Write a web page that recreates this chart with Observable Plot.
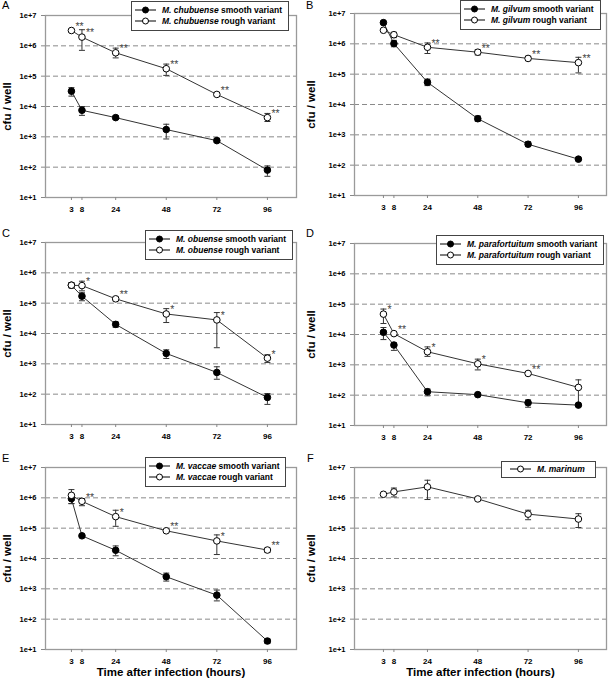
<!DOCTYPE html>
<html><head><meta charset="utf-8">
<script src="https://cdn.jsdelivr.net/npm/d3@7"></script>
<script src="https://cdn.jsdelivr.net/npm/@observablehq/plot@0.6"></script>
<style>
body{margin:0;background:#fff;font-family:"Liberation Sans",Arial,sans-serif;}
#fig{position:relative;width:608px;height:680px;overflow:hidden;background:#fff;}
.panel{position:absolute;}
.letter{position:absolute;font-size:11px;line-height:11px;color:#000;}
.legend{position:absolute;background:#fff;border:1px solid #444;padding:3px 6px 3px 3px;font-size:8.5px;font-weight:bold;line-height:11px;white-space:nowrap;color:#000;}
.legend svg{vertical-align:middle;margin-right:6px;position:relative;top:-1px;}
</style></head><body><div id="fig"></div>
<script>
// ---------- data ----------
const hours = [3, 8, 24, 48, 72, 96];
const yTicks = [1e1, 1e2, 1e3, 1e4, 1e5, 1e6, 1e7];
const gridValues = [1e2, 1e3, 1e4, 1e5, 1e6];
const panelLetters = ["A", "B", "C", "D", "E", "F"];
const speciesNames = ["M. chubuense", "M. gilvum", "M. obuense", "M. parafortuitum", "M. vaccae", "M. marinum"];
const smoothLabel = "smooth variant";
const roughLabel = "rough variant";
const yLabel = "cfu / well";
const xLabel = "Time after infection (hours)";

// Panel A: M. chubuense
const smoothA    = [3.2e4, 7.5e3, 4.3e3, 1.74e3, 7.5e2, 80];
const smoothA_hi = [4.2e4, 1.0e4, 4.9e3, 2.6e3, 9.0e2, 110];
const smoothA_lo = [2.2e4, 5.1e3, 3.8e3, 8.5e2, 6.5e2, 50];
const roughA     = [3.2e6, 1.94e6, 5.9e5, 1.76e5, 2.5e4, 4.3e3];
const roughA_hi  = [null, 3.4e6, 8.4e5, 2.5e5, 2.9e4, 5.9e3];
const roughA_lo  = [null, 7.1e5, 4.0e5, 1.06e5, 2.2e4, 3.2e3];
const starsA     = ["**", "**", "**", "**", "**", "**"];

// Panel B: M. gilvum
const smoothB    = [5.0e6, 1.02e6, 5.4e4, 3.4e3, 4.9e2, 1.58e2];
const smoothB_hi = [null, 1.3e6, 6.9e4, 4.2e3, 5.9e2, null];
const smoothB_lo = [null, 8.0e5, 4.2e4, 2.8e3, 4.1e2, null];
const roughB     = [2.8e6, 2.0e6, 7.7e5, 5.3e5, 3.3e5, 2.4e5];
const roughB_hi  = [null, 2.4e6, 1.07e6, 6.4e5, 3.9e5, 3.6e5];
const roughB_lo  = [null, 1.6e6, 4.8e5, 4.3e5, 2.8e5, 1.1e5];
const starsB     = ["", "", "**", "**", "**", "**"];

// Panel C: M. obuense
const smoothC    = [3.9e5, 1.7e5, 2.0e4, 2.2e3, 5.2e2, 78];
const smoothC_hi = [null, 2.2e5, 2.4e4, 2.9e3, 8.0e2, 105];
const smoothC_lo = [null, 1.2e5, 1.6e4, 1.5e3, 3.1e2, 46];
const roughC     = [3.9e5, 3.8e5, 1.39e5, 4.4e4, 2.8e4, 1.54e3];
const roughC_hi  = [4.8e5, 5.3e5, 1.6e5, 6.6e4, 4.9e4, 2.0e3];
const roughC_lo  = [3.2e5, 2.55e5, 1.2e5, 2.3e4, 3.4e3, 1.1e3];
const starsC     = ["", "*", "**", "*", "*", "*"];

// Panel D: M. parafortuitum
const smoothD    = [1.18e4, 4.5e3, 1.3e2, 1.04e2, 56, 47];
const smoothD_hi = [1.7e4, 5.3e3, 1.6e2, null, 70, null];
const smoothD_lo = [6.8e3, 3.0e3, 95, null, 40, null];
const roughD     = [4.7e4, 1.07e4, 2.7e3, 1.08e3, 5.2e2, 1.8e2];
const roughD_hi  = [6.9e4, null, 3.9e3, 1.54e3, null, 3.2e2];
const roughD_lo  = [2.3e4, null, 1.9e3, 6.8e2, null, 47];
const starsD     = ["*", "**", "*", "*", "**", ""];

// Panel E: M. vaccae
const smoothE    = [9.4e5, 5.6e4, 1.87e4, 2.5e3, 6.2e2, 19];
const smoothE_hi = [1.2e6, null, 2.6e4, 3.3e3, 9.1e2, 22];
const smoothE_lo = [6.5e5, null, 1.23e4, 1.8e3, 4.0e2, 16];
const roughE     = [1.21e6, 7.7e5, 2.4e5, 8.2e4, 3.8e4, 1.9e4];
const roughE_hi  = [1.87e6, 9.5e5, 3.9e5, 9.0e4, 6.0e4, 2.2e4];
const roughE_lo  = [6.4e5, 5.5e5, 1.15e5, 7.5e4, 1.35e4, 1.6e4];
const starsE     = ["", "**", "*", "**", "*", "**"];

// Panel F: M. marinum
const marinumF    = [1.31e6, 1.57e6, 2.3e6, 9.2e5, 2.9e5, 2.0e5];
const marinumF_hi = [null, 2.1e6, 3.8e6, null, 3.9e5, 3.0e5];
const marinumF_lo = [null, 1.07e6, 8.8e5, null, 1.9e5, 1.05e5];

// ---------- layout (positions / styles only) ----------
const FONT = '"Liberation Sans", Arial, sans-serif';
const colX = [0, 304];
const rowTop = [0, 227, 452];
const rowH = [227, 225, 228];
const colDomain = [[-9.3, 109.8], [-10.8, 109.4]];
const colMargins = [{l: 45, r: 8}, {l: 50, r: 2}];
const plotH = 182;
const layout = [
  {col: 0, row: 0, mt: 15, lg: [131, 1], lt: [2, 0]},
  {col: 1, row: 0, mt: 13, lg: [156, 0], lt: [2, 0]},
  {col: 0, row: 1, mt: 15, lg: [145, 3], lt: [2, 1]},
  {col: 1, row: 1, mt: 16, lg: [132, 8], lt: [2, 1]},
  {col: 0, row: 2, mt: 15, lg: [145, 5], lt: [2, 1]},
  {col: 1, row: 2, mt: 15, lg: [197, 9], lt: [3, 1]},
];

const panels = [
  {series: [{v: smoothA, hi: smoothA_hi, lo: smoothA_lo, filled: true}, {v: roughA, hi: roughA_hi, lo: roughA_lo, filled: false, stars: starsA}]},
  {series: [{v: smoothB, hi: smoothB_hi, lo: smoothB_lo, filled: true}, {v: roughB, hi: roughB_hi, lo: roughB_lo, filled: false, stars: starsB}]},
  {series: [{v: smoothC, hi: smoothC_hi, lo: smoothC_lo, filled: true}, {v: roughC, hi: roughC_hi, lo: roughC_lo, filled: false, stars: starsC}]},
  {series: [{v: smoothD, hi: smoothD_hi, lo: smoothD_lo, filled: true}, {v: roughD, hi: roughD_hi, lo: roughD_lo, filled: false, stars: starsD}]},
  {series: [{v: smoothE, hi: smoothE_hi, lo: smoothE_lo, filled: true}, {v: roughE, hi: roughE_hi, lo: roughE_lo, filled: false, stars: starsE}]},
  {series: [{v: marinumF, hi: marinumF_hi, lo: marinumF_lo, filled: false}], single: true},
];

const capSymbol = {
  draw(context, size) {
    const r = Math.sqrt(size / Math.PI);
    context.moveTo(-r, 0);
    context.lineTo(r, 0);
  }
};

const fig = document.getElementById("fig");

panels.forEach((p, k) => {
  const L = layout[k];
  const m = colMargins[L.col];
  const H = rowH[L.row];
  const mb = H - L.mt - plotH;
  const bottomRow = L.row === 2;

  const marks = [
    Plot.ruleY(gridValues, {stroke: "#8a8a8a", strokeWidth: 1, strokeDasharray: "5,3"}),
    Plot.frame({stroke: "#9a9a9a", strokeWidth: 1.3}),
    Plot.axisY({ticks: yTicks, tickFormat: d => "1e+" + Math.round(Math.log10(d)), tickSize: 4, tickPadding: 5,
      fontSize: 7.5, fontWeight: "bold", stroke: "#888", fill: "#000", label: null}),
    Plot.axisX({ticks: hours, tickFormat: d => String(d), tickSize: 3, tickPadding: 6,
      fontSize: 8, fontWeight: "bold", stroke: "#888", fill: "#000", label: null}),
    Plot.text([yLabel], {text: d => d, frameAnchor: "left", dx: -(m.l - 7), rotate: -90,
      textAnchor: "middle", lineAnchor: "middle",
      fontSize: 11.5, fontWeight: "bold", fill: "#000"}),
  ];
  if (bottomRow) {
    marks.push(Plot.text([xLabel], {text: d => d, frameAnchor: "bottom", dy: 23,
      textAnchor: "middle", lineAnchor: "middle",
      fontSize: 11.5, fontWeight: "bold", fill: "#000"}));
  }
  const seriesData = p.series.map(s => hours.map((h, i) => ({
    x: h, y: s.v[i], hi: s.hi[i], lo: s.lo[i], star: s.stars ? s.stars[i] : ""
  })));
  seriesData.forEach(d => marks.push(Plot.line(d, {x: "x", y: "y", stroke: "#333", strokeWidth: 1})));
  seriesData.forEach(d => {
    const e = d.filter(o => o.hi != null);
    marks.push(Plot.ruleX(e, {x: "x", y1: "lo", y2: "hi", stroke: "#333", strokeWidth: 1}));
    marks.push(Plot.dot(e, {x: "x", y: "hi", symbol: capSymbol, r: 3, fill: "none", stroke: "#333", strokeWidth: 1}));
    marks.push(Plot.dot(e, {x: "x", y: "lo", symbol: capSymbol, r: 3, fill: "none", stroke: "#333", strokeWidth: 1}));
  });
  seriesData.forEach((d, j) => {
    const s = p.series[j];
    marks.push(Plot.dot(d, {x: "x", y: "y", r: 3.3, fill: s.filled ? "#000" : "#fff", stroke: "#000", strokeWidth: 1}));
    if (s.stars) {
      marks.push(Plot.text(d, {x: "x", y: "y", text: "star", dx: 4, dy: -4, textAnchor: "start",
        fontSize: 10.5, fill: "#444", opacity: 0.99}));
    }
  });

  const chart = Plot.plot({
    width: 304, height: H,
    marginLeft: m.l, marginRight: m.r, marginTop: L.mt, marginBottom: mb,
    style: {fontFamily: FONT, background: "transparent", overflow: "visible"},
    x: {domain: colDomain[L.col], axis: null},
    y: {type: "log", domain: [10, 1e7], axis: null},
    marks
  });

  const wrap = document.createElement("div");
  wrap.className = "panel";
  wrap.style.left = colX[L.col] + "px";
  wrap.style.top = rowTop[L.row] + "px";
  wrap.style.width = "304px";
  wrap.style.height = H + "px";
  wrap.appendChild(chart);

  const letter = document.createElement("div");
  letter.className = "letter";
  letter.style.left = L.lt[0] + "px";
  letter.style.top = L.lt[1] + "px";
  letter.textContent = panelLetters[k];
  wrap.appendChild(letter);

  const lg = document.createElement("div");
  lg.className = "legend";
  lg.style.left = L.lg[0] + "px";
  lg.style.top = L.lg[1] + "px";
  const sym = filled => `<svg width="21" height="8"><line x1="0" x2="21" y1="4" y2="4" stroke="#000" stroke-width="1"/><circle cx="10.5" cy="4" r="3" fill="${filled ? "#000" : "#fff"}" stroke="#000" stroke-width="1"/></svg>`;
  if (p.single) {
    lg.innerHTML = `<div>${sym(false)}<i>${speciesNames[k]}</i></div>`;
    lg.style.padding = "2px 10px 2px 8px";
  } else {
    lg.innerHTML = `<div>${sym(true)}<i>${speciesNames[k]}</i> ${smoothLabel}</div><div>${sym(false)}<i>${speciesNames[k]}</i> ${roughLabel}</div>`;
  }
  wrap.appendChild(lg);
  fig.appendChild(wrap);
});
</script></body></html>
